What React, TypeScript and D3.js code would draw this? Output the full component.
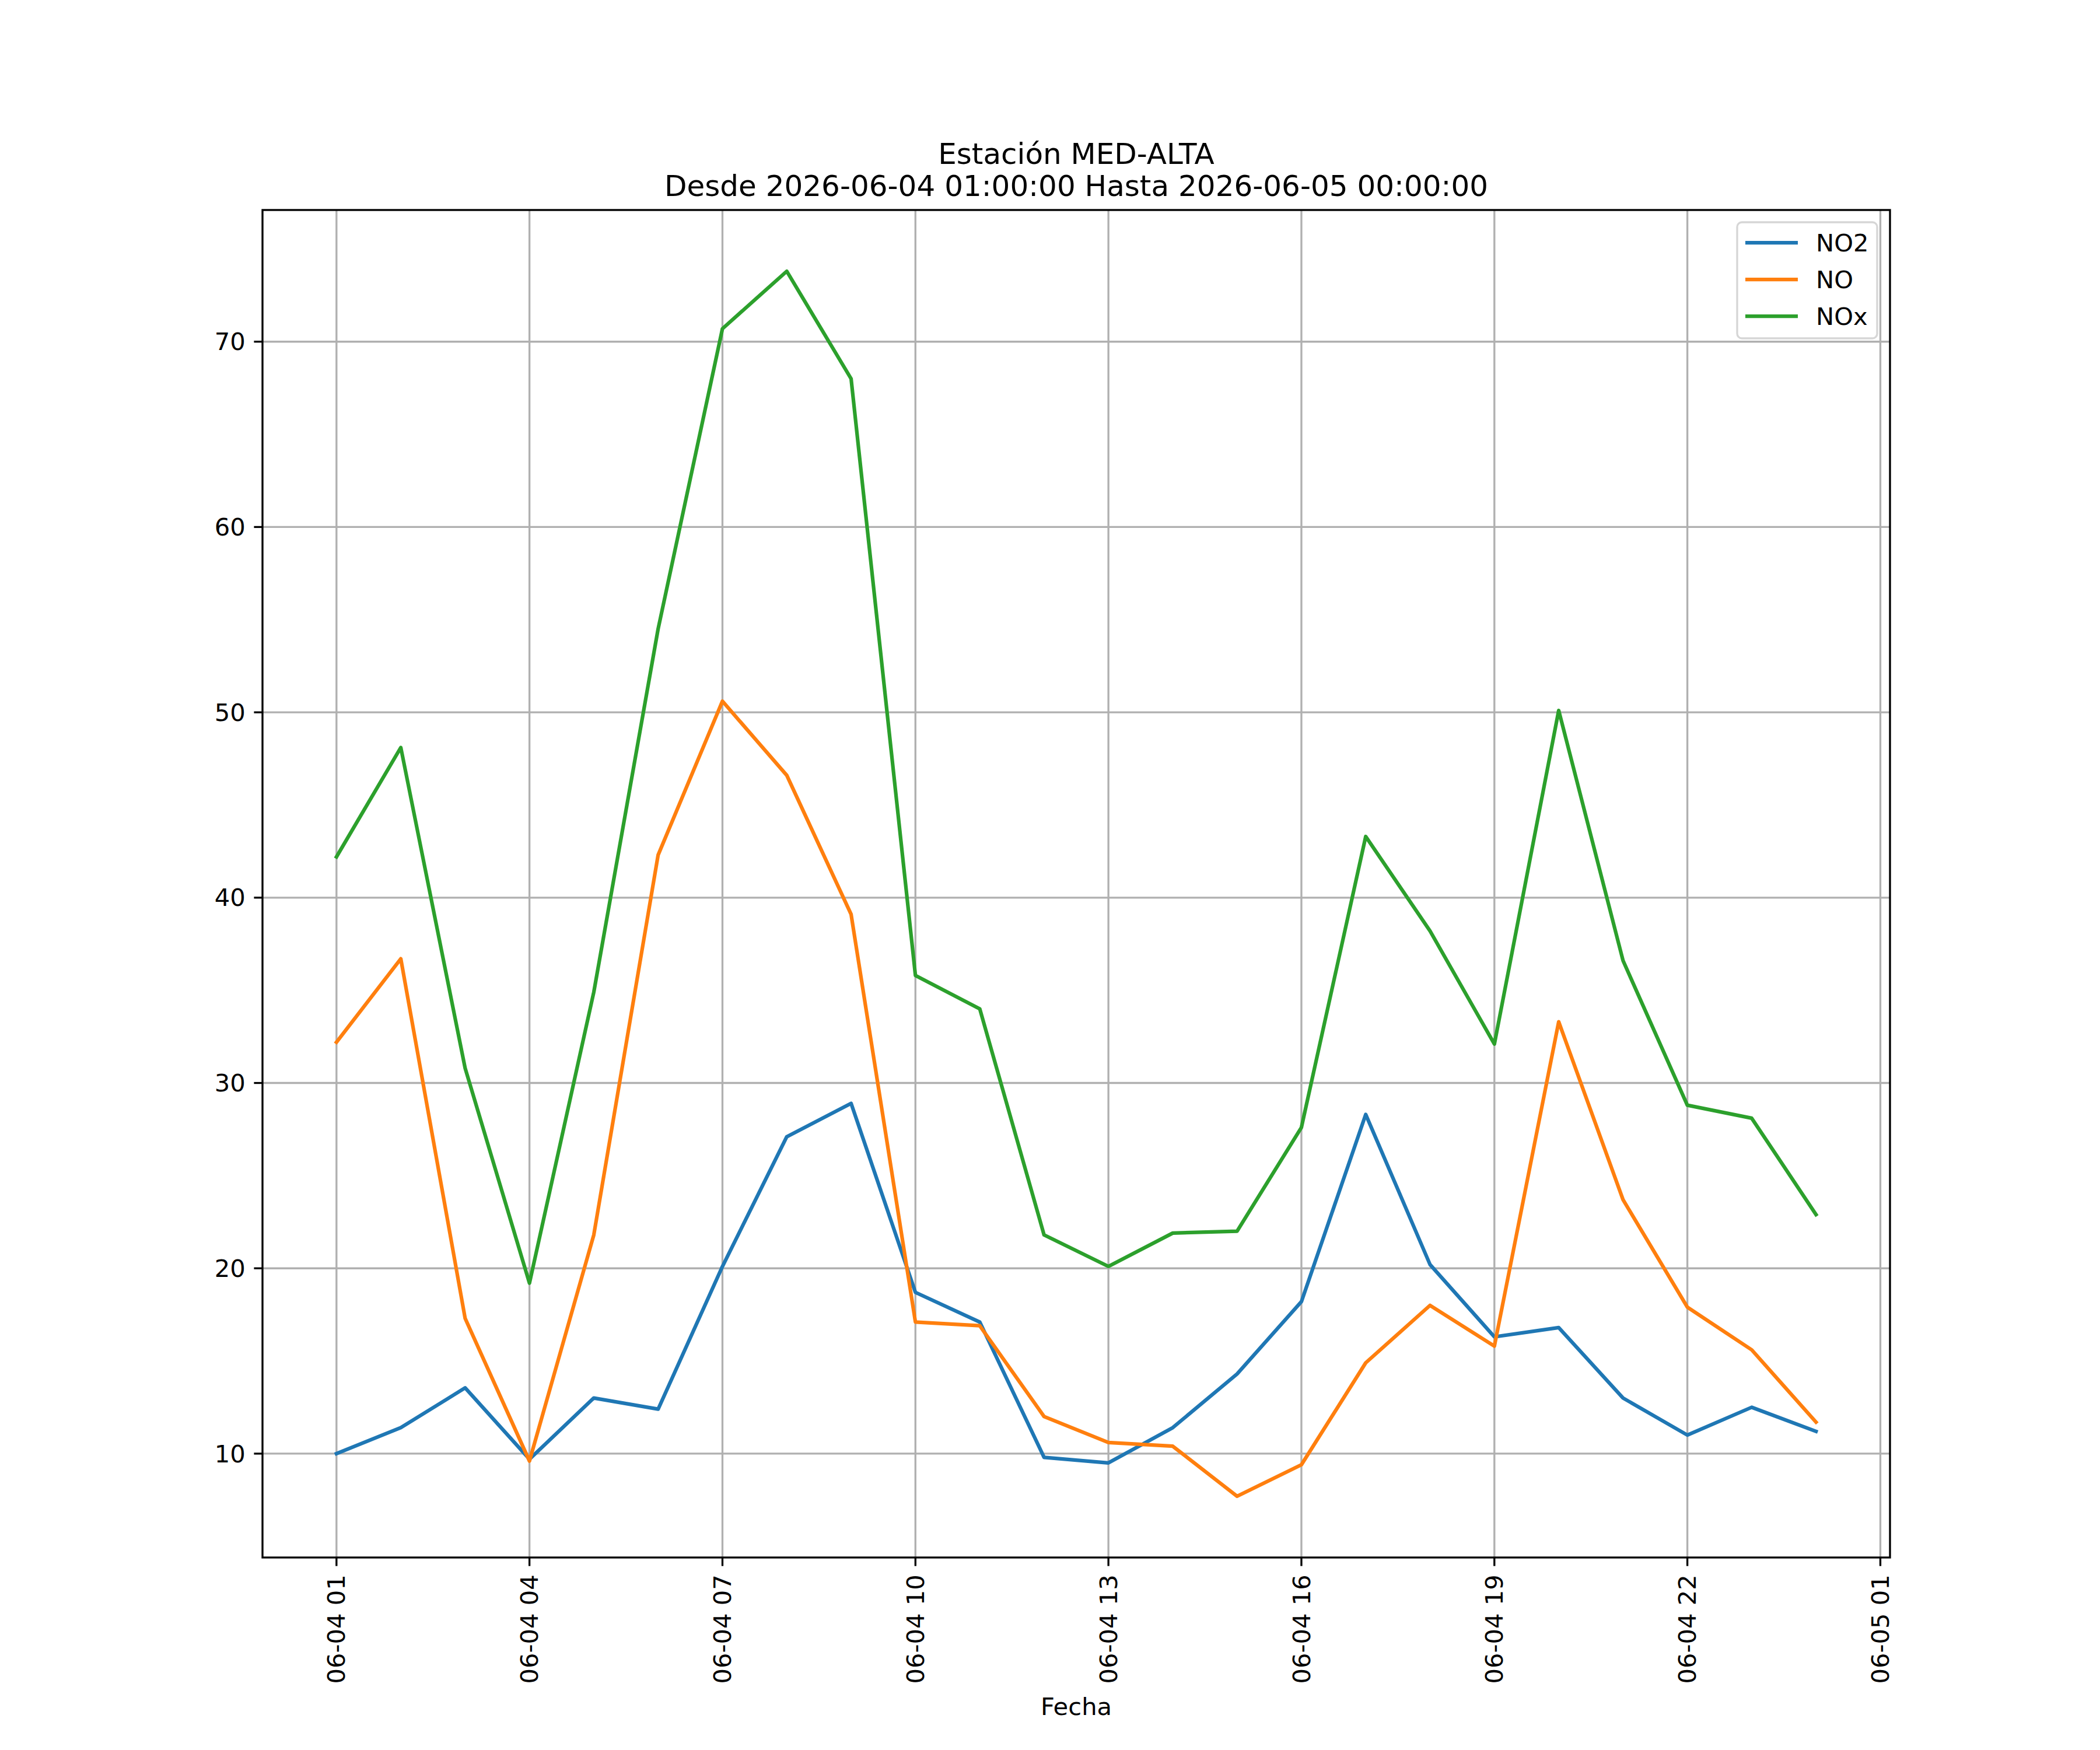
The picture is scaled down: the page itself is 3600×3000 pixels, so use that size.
import { useEffect, useRef } from "react"
import * as d3 from "d3"

// horas de la serie (una medición por hora)
const horas = [
  "2026-06-04 01", "2026-06-04 02", "2026-06-04 03", "2026-06-04 04",
  "2026-06-04 05", "2026-06-04 06", "2026-06-04 07", "2026-06-04 08",
  "2026-06-04 09", "2026-06-04 10", "2026-06-04 11", "2026-06-04 12",
  "2026-06-04 13", "2026-06-04 14", "2026-06-04 15", "2026-06-04 16",
  "2026-06-04 17", "2026-06-04 18", "2026-06-04 19", "2026-06-04 20",
  "2026-06-04 21", "2026-06-04 22", "2026-06-04 23", "2026-06-05 00",
]

const no2 = [
  10.0, 11.4, 13.55, 9.7, 13.0, 12.4, 20.1, 27.1, 28.9, 18.7, 17.1, 9.8,
  9.5, 11.4, 14.3, 18.2, 28.3, 20.2, 16.3, 16.8, 13.0, 11.0, 12.5, 11.2,
]

const no = [
  32.2, 36.7, 17.3, 9.6, 21.8, 42.3, 50.6, 46.6, 39.1, 17.1, 16.9, 12.0,
  10.6, 10.4, 7.7, 9.4, 14.9, 18.0, 15.8, 33.3, 23.7, 17.9, 15.6, 11.7,
]

const nox = [
  42.2, 48.1, 30.8, 19.2, 34.9, 54.5, 70.7, 73.8, 68.0, 35.8, 34.0, 21.8,
  20.1, 21.9, 22.0, 27.6, 43.3, 38.2, 32.1, 50.1, 36.6, 28.8, 28.1, 22.9,
]

const seriesNames = ["NO2", "NO", "NOx"]
const seriesColors = ["#1f77b4", "#ff7f0e", "#2ca02c"]
const yTickValues = [10, 20, 30, 40, 50, 60, 70]

const titleLines = [
  "Estación MED-ALTA",
  "Desde 2026-06-04 01:00:00 Hasta 2026-06-05 00:00:00",
]

export default function App() {
  const svgRef = useRef<SVGSVGElement>(null)

  useEffect(() => {
    if (!svgRef.current) return

    const W = 3600
    const H = 3000
    const left = 450
    const right = 3240
    const top = 360
    const bottom = 2670
    const fs = 41.67
    const font = "DejaVu Sans, sans-serif"
    const lw = 3.33
    const tickLen = 14.6

    const parse = d3.timeParse("%Y-%m-%d %H")
    const dates = horas.map((h) => parse(h) as Date)
    const allSeries = [no2, no, nox]

    const svg = d3.select(svgRef.current)
    svg.selectAll("*").remove()
    svg.attr("width", W).attr("height", H).attr("viewBox", `0 0 ${W} ${H}`)

    svg.append("rect").attr("width", W).attr("height", H).attr("fill", "#ffffff")

    // márgenes 5% como matplotlib
    const [t0, t1] = d3.extent(dates) as [Date, Date]
    const span = +t1 - +t0
    const x = d3
      .scaleTime()
      .domain([new Date(+t0 - span * 0.05), new Date(+t1 + span * 0.05)])
      .range([left, right])

    const allVals = allSeries.flat()
    const yMin = d3.min(allVals) as number
    const yMax = d3.max(allVals) as number
    const yPad = (yMax - yMin) * 0.05
    const y = d3.scaleLinear().domain([yMin - yPad, yMax + yPad]).range([bottom, top])

    const xTicks = d3.timeHour.range(t0, d3.timeHour.offset(t0, 25), 3)
    const fmt = d3.timeFormat("%m-%d %H")

    // grid
    const grid = svg.append("g")
    grid
      .selectAll(".gx")
      .data(xTicks)
      .enter()
      .append("line")
      .attr("x1", (d) => x(d))
      .attr("x2", (d) => x(d))
      .attr("y1", top)
      .attr("y2", bottom)
      .style("stroke", "#b0b0b0")
      .style("stroke-width", lw)
    grid
      .selectAll(".gy")
      .data(yTickValues)
      .enter()
      .append("line")
      .attr("x1", left)
      .attr("x2", right)
      .attr("y1", (d) => y(d))
      .attr("y2", (d) => y(d))
      .style("stroke", "#b0b0b0")
      .style("stroke-width", lw)

    // lines
    const line = d3
      .line<number>()
      .x((_, i) => x(dates[i]))
      .y((d) => y(d))

    svg
      .append("g")
      .selectAll("path")
      .data(allSeries)
      .enter()
      .append("path")
      .attr("d", (d) => line(d))
      .style("fill", "none")
      .style("stroke", (_, i) => seriesColors[i])
      .style("stroke-width", 6.25)
      .style("stroke-linejoin", "round")
      .style("stroke-linecap", "square")

    // spines
    svg
      .append("rect")
      .attr("x", left)
      .attr("y", top)
      .attr("width", right - left)
      .attr("height", bottom - top)
      .style("fill", "none")
      .style("stroke", "#000")
      .style("stroke-width", lw)

    // x ticks
    const xt = svg
      .append("g")
      .selectAll("g")
      .data(xTicks)
      .enter()
      .append("g")
      .attr("transform", (d) => `translate(${x(d)},${bottom})`)
    xt.append("line").attr("y2", tickLen).style("stroke", "#000").style("stroke-width", lw)
    xt
      .append("text")
      .attr("transform", `translate(0,${tickLen + 14.6}) rotate(-90)`)
      .attr("text-anchor", "end")
      .attr("dy", "0.35em")
      .style("font-family", font)
      .style("font-size", `${fs}px`)
      .style("fill", "#000")
      .text((d) => fmt(d))

    // y ticks
    const yt = svg
      .append("g")
      .selectAll("g")
      .data(yTickValues)
      .enter()
      .append("g")
      .attr("transform", (d) => `translate(${left},${y(d)})`)
    yt.append("line").attr("x2", -tickLen).style("stroke", "#000").style("stroke-width", lw)
    yt
      .append("text")
      .attr("x", -tickLen - 14.6)
      .attr("dy", "0.35em")
      .attr("text-anchor", "end")
      .style("font-family", font)
      .style("font-size", `${fs}px`)
      .style("fill", "#000")
      .text((d) => String(d))

    // x label
    svg
      .append("text")
      .attr("x", (left + right) / 2)
      .attr("y", 2940)
      .attr("text-anchor", "middle")
      .style("font-family", font)
      .style("font-size", `${fs}px`)
      .style("fill", "#000")
      .text("Fecha")

    // title
    svg
      .append("g")
      .selectAll("text")
      .data(titleLines)
      .enter()
      .append("text")
      .attr("x", (left + right) / 2)
      .attr("y", (_, i) => 281 + i * 55)
      .attr("text-anchor", "middle")
      .style("font-family", font)
      .style("font-size", "50px")
      .style("fill", "#000")
      .text((d) => d)

    // legend
    const lg = svg.append("g")
    lg.append("rect")
      .attr("x", 2978)
      .attr("y", 381)
      .attr("width", 240)
      .attr("height", 199)
      .attr("rx", 8)
      .style("fill", "#ffffff")
      .style("fill-opacity", 0.8)
      .style("stroke", "#d6d6d6")
      .style("stroke-width", 3.3)
    const items = lg
      .selectAll(".item")
      .data(seriesNames)
      .enter()
      .append("g")
      .attr("transform", (_, i) => `translate(0,${416 + i * 63})`)
    items
      .append("line")
      .attr("x1", 2992)
      .attr("x2", 3082)
      .style("stroke", (_, i) => seriesColors[i])
      .style("stroke-width", 6.25)
    items
      .append("text")
      .attr("x", 3113)
      .attr("dy", "0.36em")
      .style("font-family", font)
      .style("font-size", `${fs}px`)
      .style("fill", "#000")
      .text((d) => d)
  }, [])

  return (
    <svg
      ref={svgRef}
      style={{ position: "absolute", left: 0, top: 0, background: "#ffffff" }}
    />
  )
}
